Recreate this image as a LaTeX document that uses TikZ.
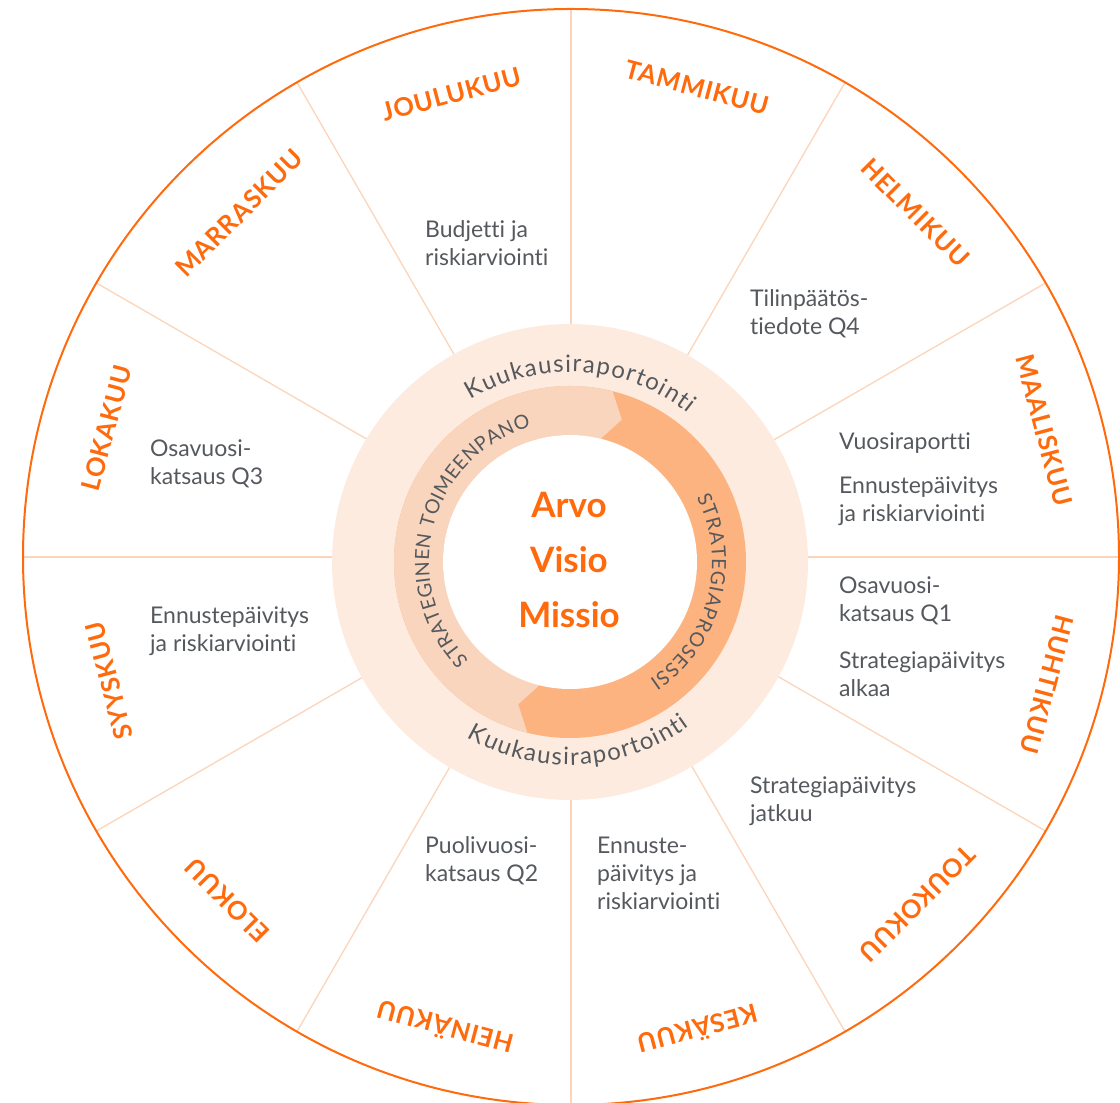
\documentclass[tikz,border=0pt]{standalone}
\usepackage{fontspec}
\setmainfont{Lato}[Ligatures=NoCommon]
\newfontfamily\monthfont{Lato}[LetterSpace=3,Ligatures=NoCommon]
\usetikzlibrary{decorations.text}
\definecolor{orangemain}{HTML}{FF6A0D}
\definecolor{textgray}{HTML}{55595D}
\definecolor{divider}{HTML}{FBD4BA}
\definecolor{ringlight}{HTML}{FEEBDF}
\definecolor{arrowlight}{HTML}{F9D5BD}
\definecolor{arrowdark}{HTML}{FDB37F}
\newcommand\ringfont{\fontsize{24}{28}\selectfont}
\newcommand\capsfont{\fontsize{19.5}{23}\selectfont}
\begin{document}
\begin{tikzpicture}[x=1pt,y=1pt,
  month/.style={text=orangemain, font=\monthfont\bfseries\fontsize{25.5}{30}\selectfont, inner sep=0pt},
  body/.style={text=textgray, font=\fontsize{23}{28}\selectfont, align=left, anchor=base west, inner sep=0pt},
  core/.style={text=orangemain, font=\bfseries\fontsize{35}{40}\selectfont, anchor=base, inner sep=0pt},
  divline/.style={draw=divider, line width=1.3pt},
  ringtext/.style={decorate, decoration={text along path, text align={fit to path}, text color=textgray, text={#1}}}
  ]
\useasboundingbox (0,0) rectangle (1120,1103);
% outer wheel
\begin{scope}[shift={(571,546)}]
  \foreach \a in {0,30,...,330} \draw[divline] (\a:200) -- (\a:548);
  \draw[orangemain, line width=2pt] (0,0) circle[radius=548];
  \node[month, rotate=-15]  (m01) at (75:486)  {TAMMIKUU};
  \node[month, rotate=-45]  (m02) at (45:487)  {HELMIKUU};
  \node[month, rotate=-75]  (m03) at (15:490)  {MAALISKUU};
  \node[month, rotate=-105] (m04) at (-15:493) {HUHTIKUU};
  \node[month, rotate=-135] (m05) at (-45:490) {TOUKOKUU};
  \node[month, rotate=-165] (m06) at (-75:490) {KESÄKUU};
  \node[month, rotate=165]  (m07) at (255:488) {HEINÄKUU};
  \node[month, rotate=135]  (m08) at (225:486) {ELOKUU};
  \node[month, rotate=105]  (m09) at (195:478) {SYYSKUU};
  \node[month, rotate=75]   (m10) at (164.5:482) {LOKAKUU};
  \node[month, rotate=45]   (m11) at (134:478) {MARRASKUU};
  \node[month, rotate=15]   (m12) at (104.5:478) {JOULUKUU};
\end{scope}
% inner rings
\begin{scope}[shift={(570,541)}]
  \fill[ringlight] (0,0) circle[radius=238];
  \fill[arrowdark] (0,0) circle[radius=176];
  \fill[arrowlight] (256:176) arc[start angle=256, end angle=76, radius=176]
     -- (70:151.5) -- (76:127) arc[start angle=76, end angle=256, radius=127]
     -- (250:151.5) -- cycle;
  \fill[white] (0,0) circle[radius=127];
  \path[ringtext={|\ringfont|Kuukausiraportointi}] (121.5:190) arc[start angle=121.5, end angle=51.5, radius=190];
  \path[ringtext={|\ringfont|Kuukausiraportointi}] (239.5:203) arc[start angle=239.5, end angle=306, radius=203];
  \path[ringtext={|\capsfont|STRATEGIAPROSESSI}] (27:142) arc[start angle=27, end angle=-56, radius=142];
  \path[ringtext={|\capsfont|STRATEGINEN TOIMEENPANO}] (224:141) arc[start angle=224, end angle=106, radius=141];
\end{scope}
% centre
\node[core] (arvo)   at (569,585) {Arvo};
\node[core] (visio)  at (569,530) {Visio};
\node[core] (missio) at (569,475) {Missio};
% sector texts (anchor = baseline of last line)
\node[body] (t12)  at (425,837) {Budjetti ja\\riskiarviointi};
\node[body] (t02)  at (750,768) {Tilinpäätös-\\tiedote Q4};
\node[body] (t03a) at (839,653) {Vuosiraportti};
\node[body] (t03b) at (839,581) {Ennustepäivitys\\ja riskiarviointi};
\node[body] (t04a) at (839,481) {Osavuosi-\\katsaus Q1};
\node[body] (t04b) at (839,406) {Strategiapäivitys\\alkaa};
\node[body] (t05)  at (750,281) {Strategiapäivitys\\jatkuu};
\node[body] (t06)  at (597,193) {Ennuste-\\päivitys ja\\riskiarviointi};
\node[body] (t07)  at (425,221) {Puolivuosi-\\katsaus Q2};
\node[body] (t09)  at (150,451) {Ennustepäivitys\\ja riskiarviointi};
\node[body] (t10)  at (150,618) {Osavuosi-\\katsaus Q3};
\end{tikzpicture}
\end{document}
